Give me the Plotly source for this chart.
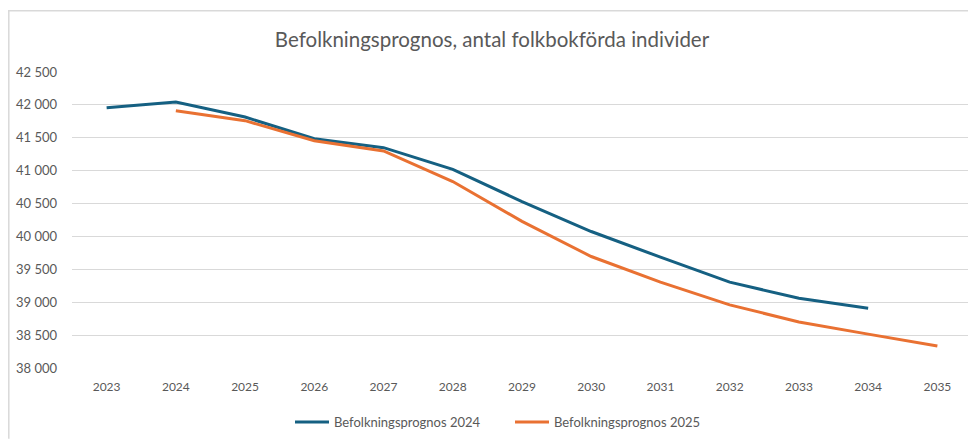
import plotly.graph_objects as go

years = ["2023", "2024", "2025", "2026", "2027", "2028", "2029",
         "2030", "2031", "2032", "2033", "2034", "2035"]
prognos_2024 = [41955, 42045, 41815, 41485, 41350, 41020, 40530,
                40075, 39685, 39305, 39060, 38910, None]
prognos_2025 = [None, 41910, 41760, 41455, 41300, 40835, 40230,
                39695, 39305, 38960, 38700, 38515, 38335]

blue = "#156082"
orange = "#E97132"
grey = "#595959"

# the page body has an 8px margin, so the figure is drawn 8px smaller
W, H = 968, 432
left, top, bottom, right = 64, 64, 361, 964
ph = bottom - top

fig = go.Figure()
fig.add_trace(go.Scatter(x=years, y=prognos_2024, mode="lines",
                         name="Befolkningsprognos 2024",
                         line=dict(color=blue, width=3)))
fig.add_trace(go.Scatter(x=years, y=prognos_2025, mode="lines",
                         name="Befolkningsprognos 2025",
                         line=dict(color=orange, width=3)))

fig.update_layout(
    width=W, height=H,
    margin=dict(l=left, r=W - right, t=top, b=H - bottom),
    paper_bgcolor="white", plot_bgcolor="white",
    separators=", ",
    font=dict(family="Lato, Open Sans, sans-serif", color=grey, size=12),
    title=dict(text="Befolkningsprognos, antal folkbokförda individer",
               x=0.5, xanchor="center", y=1 - 32 / H, yanchor="middle",
               font=dict(size=20.5, color=grey)),
    showlegend=True,
    legend=dict(orientation="h", x=(290 - 8 - left) / 900, xanchor="left",
                y=(bottom - 414) / ph, yanchor="middle",
                font=dict(size=13, color=grey), itemwidth=34,
                entrywidth=171, entrywidthmode="pixels"),
    xaxis=dict(type="category", range=[-0.5, 12.5], showgrid=False, zeroline=False,
               showline=False, ticks="", ticklabelstandoff=10,
               tickfont=dict(size=12, color=grey)),
    yaxis=dict(range=[38000, 42500], dtick=500, tickformat=",d",
               showgrid=True, gridcolor="#D9D9D9", gridwidth=1,
               zeroline=False, showline=False, ticks="",
               ticklabelstandoff=14, tickfont=dict(size=13, color=grey)),
    shapes=[
        dict(type="line", xref="paper", yref="paper",
             x0=-left / 900, x1=(W - left) / 900, y0=(bottom - 2.5) / ph, y1=(bottom - 2.5) / ph,
             line=dict(color="#D9D9D9", width=1.5)),
        dict(type="line", xref="paper", yref="paper",
             x0=(0.8 - left) / 900, x1=(0.8 - left) / 900, y0=(bottom - 2.5) / ph, y1=(bottom - H) / ph,
             line=dict(color="#D9D9D9", width=1.5)),
    ],
)

fig.write_html("out.html")
